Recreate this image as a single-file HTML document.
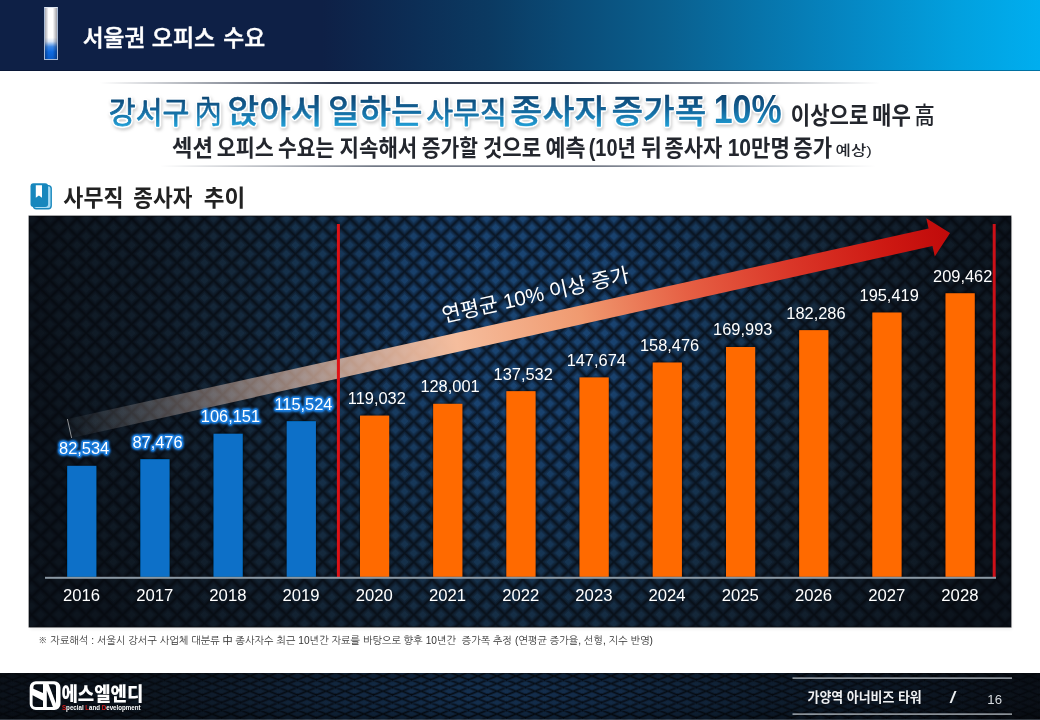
<!DOCTYPE html>
<html lang="ko">
<head>
<meta charset="utf-8">
<title>서울권 오피스 수요</title>
<style>
*{margin:0;padding:0;box-sizing:border-box}
html,body{width:1040px;height:720px;overflow:hidden;background:#fff}
body{position:relative;font-family:'Liberation Sans','Noto Sans CJK KR',sans-serif;color:#222}
.abs{position:absolute}
#header{left:0;top:0;width:1040px;height:71px;border-bottom:1px solid rgba(0,10,30,.35);background:linear-gradient(90deg,#0e2046 0%,#0e2046 31%,#0c2e56 40%,#0b3a62 47%,#0a4c78 55%,#0a5f8e 64%,#0774aa 73%,#0588c4 82%,#02a0de 92%,#00aeef 100%)}
#hbar{left:44px;top:7px;width:14px;height:53px;border:1px solid #a9bbd6;border-top-color:#dfe6f0;background:linear-gradient(90deg,rgba(0,0,20,.32) 0%,rgba(0,0,20,0) 30%,rgba(0,0,20,0) 65%,rgba(0,0,20,.38) 100%),linear-gradient(180deg,#ffffff 0%,#ffffff 58%,#d5e4f7 66%,#3a86e6 76%,#0e6ae0 86%,#0a5cc8 100%)}
svg text{white-space:pre}
.vals text{font-family:'Liberation Sans',sans-serif;font-size:16.4px;fill:#fff}
.vals text.vb{stroke:#1a7cdc;stroke-width:2.6px;paint-order:stroke fill;stroke-linejoin:round;filter:drop-shadow(0 0 1.1px #1a7cdc) drop-shadow(0 0 0.8px #1a7cdc)}
.years text{font-family:'Liberation Sans',sans-serif;font-size:16.7px;fill:#fff}
</style>
</head>
<body>
<div id="header" class="abs"></div>
<div id="hbar" class="abs"></div>

<svg class="abs" style="left:0;top:0" width="1040" height="720" viewBox="0 0 1040 720">
<defs>
<linearGradient id="tg" x1="0" y1="93" x2="0" y2="128" gradientUnits="userSpaceOnUse"><stop offset="0" stop-color="#0c3e69"/><stop offset="0.5" stop-color="#14679c"/><stop offset="1" stop-color="#22a5dc"/></linearGradient>
<linearGradient id="hl1" x1="0" y1="0" x2="1" y2="0"><stop offset="0" stop-color="#2a3448" stop-opacity="0"/><stop offset="0.3" stop-color="#2a3448" stop-opacity=".95"/><stop offset="0.6" stop-color="#2a3448" stop-opacity=".95"/><stop offset="1" stop-color="#2a3448" stop-opacity="0"/></linearGradient>
<filter id="ts" x="-5%" y="-30%" width="110%" height="170%"><feDropShadow dx="0.6" dy="1.6" stdDeviation="1.4" flood-color="#000" flood-opacity=".33"/></filter>
<filter id="ts2" x="-2%" y="-30%" width="104%" height="170%" color-interpolation-filters="sRGB">
<feGaussianBlur in="SourceAlpha" stdDeviation="0.95" result="ob"/>
<feComponentTransfer in="ob" result="d"><feFuncA type="linear" slope="7" intercept="0"/></feComponentTransfer>
<feGaussianBlur in="d" stdDeviation="1.5" result="sb"/>
<feOffset in="sb" dx="0.6" dy="1.6" result="so"/>
<feFlood flood-color="#000" flood-opacity=".2" result="sc"/>
<feComposite in="sc" in2="so" operator="in" result="shadow"/>
<feFlood flood-color="#fff" result="wc"/>
<feComposite in="wc" in2="d" operator="in" result="outline"/>
<feMerge><feMergeNode in="shadow"/><feMergeNode in="outline"/><feMergeNode in="SourceGraphic"/></feMerge>
</filter>
<pattern id="wv" width="18.2" height="17.6" patternUnits="userSpaceOnUse" patternTransform="translate(31.5 227.5)">
<g fill="none" stroke="#04080e" stroke-opacity=".26" stroke-width="7.2">
<path d="M-18.2 -17.6L36.4 35.2M0 -17.6L54.6 35.2M-36.4 -17.6L18.2 35.2M36.4 -17.6L-18.2 35.2M18.2 -17.6L-36.4 35.2M54.6 -17.6L0 35.2"/>
</g>
<g fill="none" stroke="#04080e" stroke-opacity=".3" stroke-width="4.2"><path d="M-18.2 -17.6L36.4 35.2M0 -17.6L54.6 35.2M-36.4 -17.6L18.2 35.2M36.4 -17.6L-18.2 35.2M18.2 -17.6L-36.4 35.2M54.6 -17.6L0 35.2"/></g>
<g fill="none" stroke="#04070c" stroke-opacity=".5" stroke-width="1.8">
<path d="M-18.2 -17.6L36.4 35.2M0 -17.6L54.6 35.2M-36.4 -17.6L18.2 35.2M36.4 -17.6L-18.2 35.2M18.2 -17.6L-36.4 35.2M54.6 -17.6L0 35.2"/>
</g>
</pattern>
<radialGradient id="bgf" gradientUnits="userSpaceOnUse" cx="0" cy="0" r="1" gradientTransform="translate(528 300) scale(490 600)">
<stop offset="0" stop-color="#1a4674"/>
<stop offset="0.2" stop-color="#19426f"/>
<stop offset="0.45" stop-color="#163451"/>
<stop offset="0.6" stop-color="#15293c"/>
<stop offset="0.75" stop-color="#12202e"/>
<stop offset="0.95" stop-color="#0f1923"/>
<stop offset="1" stop-color="#0d151e"/>
</radialGradient>
<linearGradient id="ag" gradientUnits="userSpaceOnUse" x1="0" y1="0" x2="902" y2="0">
<stop offset="0" stop-color="#ffffff" stop-opacity="0.03"/>
<stop offset="0.12" stop-color="#f3d3c3" stop-opacity="0.30"/>
<stop offset="0.30" stop-color="#f5c6ad" stop-opacity="0.72"/>
<stop offset="0.44" stop-color="#f5bd9d" stop-opacity="1"/>
<stop offset="0.58" stop-color="#f09a70"/>
<stop offset="0.70" stop-color="#e66044"/>
<stop offset="0.82" stop-color="#da3628"/>
<stop offset="0.93" stop-color="#cd1812"/>
<stop offset="1" stop-color="#c00a0a"/>
</linearGradient>
<filter id="bs" x="-1%" y="-2%" width="102%" height="104%"><feDropShadow dx="0" dy="0" stdDeviation="1.3" flood-color="#000" flood-opacity="1"/></filter>
<clipPath id="cc"><rect x="29" y="216" width="982" height="411"/></clipPath>
</defs>

<!-- header title -->
<text y="45.6" font-size="22.7" fill="#fff" stroke="#fff" stroke-width="0.45" font-weight="500" font-family="'Liberation Sans','Noto Sans CJK KR',sans-serif"><tspan x="82.69" textLength="62.65" lengthAdjust="spacingAndGlyphs">서울권</tspan> <tspan x="151.75" textLength="63.4" lengthAdjust="spacingAndGlyphs">오피스</tspan> <tspan x="223.26" textLength="41.88" lengthAdjust="spacingAndGlyphs">수요</tspan></text>

<!-- title rules -->
<rect x="100" y="82" width="780" height="2" fill="url(#hl1)"/>
<rect x="160" y="165.5" width="716" height="1.2" fill="url(#hl1)"/>

<g font-family="'Liberation Sans','Noto Sans CJK KR',sans-serif" font-weight="500" filter="url(#ts2)" stroke="url(#tg)" stroke-width="0.8" stroke-linejoin="round">
<text y="123.3" font-size="29.6" font-weight="400" stroke-width="0.8" fill="url(#tg)"><tspan x="108.84" textLength="80.62" lengthAdjust="spacingAndGlyphs">강서구</tspan></text>
<text y="123.4" font-size="31.5" font-weight="400" stroke-width="0.45" fill="url(#tg)"><tspan x="194.15" textLength="27.72" lengthAdjust="spacingAndGlyphs">內</tspan></text>
<text y="123.2" font-size="33.3" stroke-width="0.4" fill="url(#tg)"><tspan x="227.53" textLength="95.0" lengthAdjust="spacingAndGlyphs">앉아서</tspan> <tspan x="327.94" textLength="94.57" lengthAdjust="spacingAndGlyphs">일하는</tspan></text>
<text y="123.3" font-size="29.6" font-weight="400" stroke-width="0.8" fill="url(#tg)"><tspan x="426.23" textLength="80.56" lengthAdjust="spacingAndGlyphs">사무직</tspan></text>
<text y="123.3" font-size="33.3" stroke-width="0.4" fill="url(#tg)"><tspan x="510.36" textLength="96.14" lengthAdjust="spacingAndGlyphs">종사자</tspan> <tspan x="611.48" textLength="94.94" lengthAdjust="spacingAndGlyphs">증가폭</tspan></text>
<text y="123.4" font-size="40.2" font-weight="700" stroke-width="0" fill="url(#tg)"><tspan x="713.76" textLength="67.91" lengthAdjust="spacingAndGlyphs">10%</tspan></text>
</g>
<g font-family="'Liberation Sans','Noto Sans CJK KR',sans-serif" font-weight="700" fill="#23262d">
<text y="123.9" font-size="23.3"><tspan x="790.83" textLength="77.52" lengthAdjust="spacingAndGlyphs">이상으로</tspan> <tspan x="872.02" textLength="38.82" lengthAdjust="spacingAndGlyphs">매우</tspan> <tspan x="914.59" textLength="20.23" lengthAdjust="spacingAndGlyphs" font-weight="500">高</tspan></text>
<text y="155.7" font-size="23"><tspan x="172.03" textLength="40.95" lengthAdjust="spacingAndGlyphs">섹션</tspan> <tspan x="216.87" textLength="56.95" lengthAdjust="spacingAndGlyphs">오피스</tspan> <tspan x="278.09" textLength="56.23" lengthAdjust="spacingAndGlyphs">수요는</tspan> <tspan x="339.55" textLength="77.76" lengthAdjust="spacingAndGlyphs">지속해서</tspan> <tspan x="421.79" textLength="56.12" lengthAdjust="spacingAndGlyphs">증가할</tspan> <tspan x="482.93" textLength="58.21" lengthAdjust="spacingAndGlyphs">것으로</tspan> <tspan x="545.41" textLength="40.06" lengthAdjust="spacingAndGlyphs">예측</tspan> <tspan x="588.7" textLength="47.2" lengthAdjust="spacingAndGlyphs">(10년</tspan> <tspan x="640.89" textLength="20.99" lengthAdjust="spacingAndGlyphs">뒤</tspan> <tspan x="664.56" textLength="57.76" lengthAdjust="spacingAndGlyphs">종사자</tspan> <tspan x="727.64" textLength="62.22" lengthAdjust="spacingAndGlyphs">10만명</tspan> <tspan x="793.36" textLength="38.78" lengthAdjust="spacingAndGlyphs">증가</tspan> <tspan x="835.6" textLength="36.25" lengthAdjust="spacingAndGlyphs" font-weight="500" font-size="13.6" y="154.8">예상)</tspan></text>
</g>

<!-- section icon + heading -->
<rect x="33.4" y="185.6" width="17.8" height="23.2" rx="3" fill="#a9dcf5" stroke="#1787bd" stroke-width="1.4"/>
<rect x="30.5" y="183.3" width="17.6" height="23.7" rx="3" fill="#1787bd"/>
<path d="M35.8 185.2h6.2v12.6l-3.1-2.3-3.1 2.3z" fill="#fff"/>
<text y="206.1" font-size="23.1" fill="#222" font-weight="700" font-family="'Liberation Sans','Noto Sans CJK KR',sans-serif"><tspan x="63.36" textLength="60.13" lengthAdjust="spacingAndGlyphs">사무직</tspan> <tspan x="133.35" textLength="58.98" lengthAdjust="spacingAndGlyphs">종사자</tspan> <tspan x="203.7" textLength="41.48" lengthAdjust="spacingAndGlyphs">추이</tspan></text>

<!-- chart -->
<rect x="29.5" y="217" width="982" height="411" fill="#000" opacity=".18" filter="url(#ts)"/>
<rect x="29" y="216" width="982" height="411" fill="url(#bgf)"/>
<rect x="29" y="216" width="982" height="411" fill="url(#wv)"/>
<rect x="29" y="216" width="982" height="411" fill="none" stroke="#05080e" stroke-opacity=".7" stroke-width="1"/>
<g transform="translate(69.5 428.5) rotate(-12.52)">
<path d="M0 -9.8L882 -8.9V-19.6L902 0L882 19.6V8.9L0 9.8Z" fill="url(#ag)"/>
<path d="M0 -9.7V9.7" stroke="#fff" stroke-width="0.7" opacity=".7"/>
</g>
<rect x="336.9" y="224" width="3" height="353" fill="#de1216"/>
<rect x="992.7" y="224" width="3" height="353" fill="#cc1018"/>
<text transform="translate(445.0 322.2) rotate(-12.4)" x="-1.24" y="0" font-family="'Liberation Sans','Noto Sans CJK KR',sans-serif" font-size="20.6" fill="#fff" textLength="190.96" lengthAdjust="spacingAndGlyphs">연평균 10% 이상 증가</text>
<g filter="url(#bs)">
<rect x="67.2" y="465.9" width="29.1" height="110.9" fill="#0870c8"/>
<rect x="140.4" y="459.2" width="29.1" height="117.6" fill="#0870c8"/>
<rect x="213.6" y="433.8" width="29.1" height="143.0" fill="#0870c8"/>
<rect x="286.8" y="421.2" width="29.1" height="155.6" fill="#0870c8"/>
<rect x="360.0" y="415.7" width="29.1" height="161.1" fill="#ff6a00"/>
<rect x="433.2" y="403.9" width="29.1" height="172.9" fill="#ff6a00"/>
<rect x="506.4" y="391.2" width="29.1" height="185.6" fill="#ff6a00"/>
<rect x="579.6" y="377.5" width="29.1" height="199.3" fill="#ff6a00"/>
<rect x="652.8" y="362.6" width="29.1" height="214.2" fill="#ff6a00"/>
<rect x="726.0" y="347.0" width="29.1" height="229.8" fill="#ff6a00"/>
<rect x="799.2" y="330.2" width="29.1" height="246.6" fill="#ff6a00"/>
<rect x="872.4" y="312.6" width="29.1" height="264.2" fill="#ff6a00"/>
<rect x="945.6" y="293.3" width="29.1" height="283.5" fill="#ff6a00"/>
</g>
<rect x="45" y="576.8" width="951" height="2" fill="#8b98a3"/>
<g class="vals">
<text x="59.08" y="454.2" class="vb">82,534</text>
<text x="132.44" y="447.5" class="vb">87,476</text>
<text x="200.80" y="422.1" class="vb">106,151</text>
<text x="274.41" y="409.5" class="vb">115,524</text>
<text x="347.78" y="404.1">119,032</text>
<text x="420.40" y="392.3">128,001</text>
<text x="493.60" y="379.6">137,532</text>
<text x="566.64" y="365.9">147,674</text>
<text x="639.92" y="351.0">158,476</text>
<text x="713.12" y="335.4">169,993</text>
<text x="786.32" y="318.6">182,286</text>
<text x="859.52" y="301.0">195,419</text>
<text x="933.05" y="281.7">209,462</text>
</g>
<g class="years">
<text x="62.93" y="601.4">2016</text>
<text x="136.21" y="601.4">2017</text>
<text x="209.33" y="601.4">2018</text>
<text x="282.53" y="601.4">2019</text>
<text x="355.73" y="601.4">2020</text>
<text x="429.01" y="601.4">2021</text>
<text x="502.21" y="601.4">2022</text>
<text x="575.33" y="601.4">2023</text>
<text x="648.45" y="601.4">2024</text>
<text x="721.73" y="601.4">2025</text>
<text x="794.93" y="601.4">2026</text>
<text x="868.21" y="601.4">2027</text>
<text x="941.33" y="601.4">2028</text>
</g>

<!-- footnote -->
<text x="38" y="643.6" font-size="10.3" fill="#333" font-family="'Liberation Sans','NanumGothic','Noto Sans CJK KR',sans-serif" textLength="615" lengthAdjust="spacingAndGlyphs">※ 자료해석 : 서울시 강서구 사업체 대분류 中 종사자수 최근 10년간 자료를 바탕으로 향후 10년간  증가폭 추정 (연평균 증가율, 선형, 지수 반영)</text>

<!-- footer -->
<defs>
<pattern id="wv2" width="19" height="7.6" patternUnits="userSpaceOnUse" patternTransform="translate(3 676)">
<g fill="none" stroke="#04080e" stroke-opacity=".4" stroke-width="2.8">
<path d="M-19 -7.6L38 15.2M0 -7.6L57 15.2M-38 -7.6L19 15.2M38 -7.6L-19 15.2M19 -7.6L-38 15.2M57 -7.6L0 15.2"/>
</g>
<g fill="none" stroke="#04070c" stroke-opacity=".85" stroke-width="1">
<path d="M-19 -7.6L38 15.2M0 -7.6L57 15.2M-38 -7.6L19 15.2M38 -7.6L-19 15.2M19 -7.6L-38 15.2M57 -7.6L0 15.2"/>
</g>
</pattern>
<linearGradient id="fbg" x1="0" y1="0" x2="1040" y2="0" gradientUnits="userSpaceOnUse">
<stop offset="0" stop-color="#0b121b"/>
<stop offset="0.14" stop-color="#0d1722"/>
<stop offset="0.28" stop-color="#11243a"/>
<stop offset="0.45" stop-color="#143050"/>
<stop offset="0.58" stop-color="#132c49"/>
<stop offset="0.74" stop-color="#0f1f31"/>
<stop offset="0.9" stop-color="#0c1622"/>
<stop offset="1" stop-color="#0a1018"/>
</linearGradient>
<linearGradient id="fbv" x1="0" y1="673" x2="0" y2="720" gradientUnits="userSpaceOnUse">
<stop offset="0" stop-color="#000" stop-opacity=".28"/>
<stop offset="0.25" stop-color="#000" stop-opacity="0"/>
<stop offset="0.7" stop-color="#000" stop-opacity=".05"/>
<stop offset="1" stop-color="#000" stop-opacity=".35"/>
</linearGradient>
</defs>
<rect x="0" y="673" width="1040" height="47" fill="url(#fbg)"/>
<rect x="0" y="673" width="1040" height="47" fill="url(#wv2)"/>
<rect x="0" y="673" width="1040" height="47" fill="url(#fbv)"/>
<rect x="0" y="719" width="1040" height="1" fill="#8796a4" opacity=".35"/>
<rect x="792.5" y="677.5" width="219.5" height="1.2" fill="#c3cad1"/>
<rect x="792.5" y="713.5" width="219.5" height="1.2" fill="#c3cad1"/>
<text y="702.3" font-size="13.4" font-weight="700" fill="#eef0f2" font-family="'Liberation Sans','Noto Sans CJK KR',sans-serif"><tspan x="807.61" textLength="114.12" lengthAdjust="spacingAndGlyphs">가양역 아너비즈 타워</tspan></text>
<text x="950.3" y="703.2" font-size="17" font-weight="700" font-style="italic" fill="#eef0f2" font-family="'Liberation Sans',sans-serif">/</text>
<text x="987.3" y="703.5" font-size="13.2" fill="#d5d9dd" font-family="'Liberation Sans',sans-serif">16</text>
<!-- logo -->
<path fill="#fff" fill-rule="evenodd" d="M35.8 681.3H54.4A6.1 6.1 0 0 1 60.5 687.4V703.9A6.1 6.1 0 0 1 54.4 710H35.8A6.1 6.1 0 0 1 29.7 703.9V687.4A6.1 6.1 0 0 1 35.8 681.3Z
M36.4 684.3H43V693L33.4 688.8V687.3A3 3 0 0 1 36.4 684.3Z
M32.6 695.3L43 700.8V707H35.6A3 3 0 0 1 32.6 704Z
M48.6 684.3H53.2A2.8 2.8 0 0 1 56 687.1V703.5Z
M46.8 690.5L52.9 706.9H46.8Z"/>
<text y="701.2" font-size="18.8" font-weight="900" fill="#fff" font-family="'Liberation Sans','Noto Sans CJK KR',sans-serif"><tspan x="61.39" textLength="81.89" lengthAdjust="spacingAndGlyphs">에스엘엔디</tspan></text>
<text y="709.8" font-size="7" font-weight="700" fill="#fff" font-family="'Liberation Sans',sans-serif" x="62" textLength="78.5" lengthAdjust="spacingAndGlyphs"><tspan fill="#d81e1e">S</tspan>pecial <tspan fill="#d81e1e">L</tspan>and <tspan fill="#d81e1e">D</tspan>evelopment</text>
</svg>
</body>
</html>
